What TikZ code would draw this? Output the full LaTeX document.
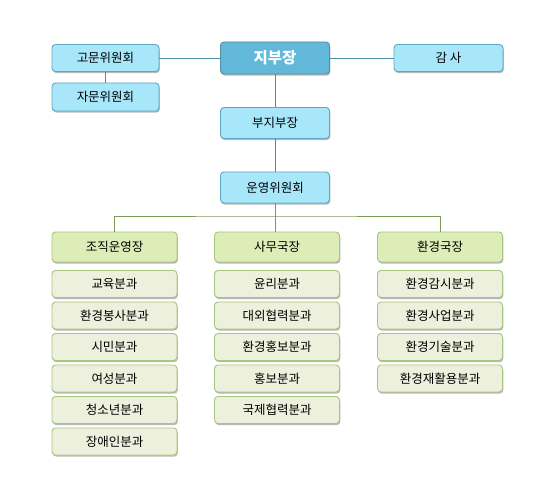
\documentclass[tikz,border=0pt]{standalone}
\usepackage{fontspec}
\setmainfont{Noto Sans CJK KR}
\usetikzlibrary{shadows}
\definecolor{bfill}{HTML}{A8E6FA}
\definecolor{bdraw}{HTML}{5FA8C4}
\definecolor{topfill}{HTML}{62B8D8}
\definecolor{gfill}{HTML}{DDEDB8}
\definecolor{gdraw}{HTML}{A8C67E}
\definecolor{sfill}{HTML}{ECF0DD}
\definecolor{bline}{HTML}{4A90A4}
\definecolor{gline}{HTML}{7E9A56}
\tikzset{
  boxbase/.style={rounded corners=3.5pt, line width=0.9pt, inner sep=0pt,
    drop shadow={shadow xshift=0.8pt, shadow yshift=-1.6pt, fill=black, opacity=0.28},
    font=\fontsize{12.5}{14}\selectfont},
  bluebox/.style={boxbase, fill=bfill, draw=bdraw, minimum width=107pt, minimum height=27pt},
  topbox/.style={boxbase, fill=topfill, draw=bdraw!85!black, text=white, minimum width=109pt, minimum height=32pt, font=\fontsize{15.5}{17}\selectfont\bfseries},
  midbox/.style={bluebox, minimum width=109pt, minimum height=31pt},
  headbox/.style={boxbase, fill=gfill, draw=gdraw, minimum width=125pt, minimum height=30pt},
  subbox/.style={boxbase, fill=sfill, draw=gdraw, minimum width=125pt, minimum height=27pt},
  bconn/.style={draw=bline, line width=0.8pt},
  gconn/.style={draw=gline, line width=0.8pt}
}
\begin{document}
\begin{tikzpicture}[x=1pt,y=-1pt]
\useasboundingbox (0,0) rectangle (558,492);
% top level
\node[topbox] (jibu) at (275,58) {지부장};
\node[bluebox] (gomun) at (105.5,58) {고문위원회};
\node[bluebox, minimum height=28pt] (jamun) at (105.5,97) {자문위원회};
\node[bluebox, minimum width=109pt] (gamsa) at (448.5,58) {감 사};
\node[midbox] (bujibu) at (275,123) {부지부장};
\node[midbox] (ops) at (275,187.5) {운영위원회};
\coordinate (bus) at (275,216);
% headers
\node[headbox] (h1) at (114.5,247) {조직운영장};
\node[headbox] (h2) at (277,247) {사무국장};
\node[headbox] (h3) at (440,247) {환경국장};
% column 1
\node[subbox] (a1) at (114.5,284) {교육분과};
\node[subbox] (a2) at (114.5,315.5) {환경봉사분과};
\node[subbox] (a3) at (114.5,347) {시민분과};
\node[subbox] (a4) at (114.5,378.5) {여성분과};
\node[subbox] (a5) at (114.5,410) {청소년분과};
\node[subbox] (a6) at (114.5,441.5) {장애인분과};
% column 2
\node[subbox] (b1) at (277,284) {윤리분과};
\node[subbox] (b2) at (277,315.5) {대외협력분과};
\node[subbox] (b3) at (277,347) {환경홍보분과};
\node[subbox] (b4) at (277,378.5) {홍보분과};
\node[subbox] (b5) at (277,410) {국제협력분과};
% column 3
\node[subbox] (c1) at (440,284) {환경감시분과};
\node[subbox] (c2) at (440,315.5) {환경사업분과};
\node[subbox] (c3) at (440,347) {환경기술분과};
\node[subbox] (c4) at (440,378.5) {환경재활용분과};
% connectors
\draw[bconn] (gomun.east) -- (jibu.west);
\draw[bconn] (jibu.east) -- (gamsa.west);
\draw[bconn] (gomun.south) -- (jamun.north);
\draw[bconn] (jibu.south) -- (bujibu.north);
\draw[bconn] (bujibu.south) -- (ops.north);
\draw[gconn] (ops.south) -- (bus);
\draw[gconn] (h1.north) |- (bus) -| (h3.north);
\draw[gconn] (bus) -- (h2.north -| bus);
\end{tikzpicture}
\end{document}
